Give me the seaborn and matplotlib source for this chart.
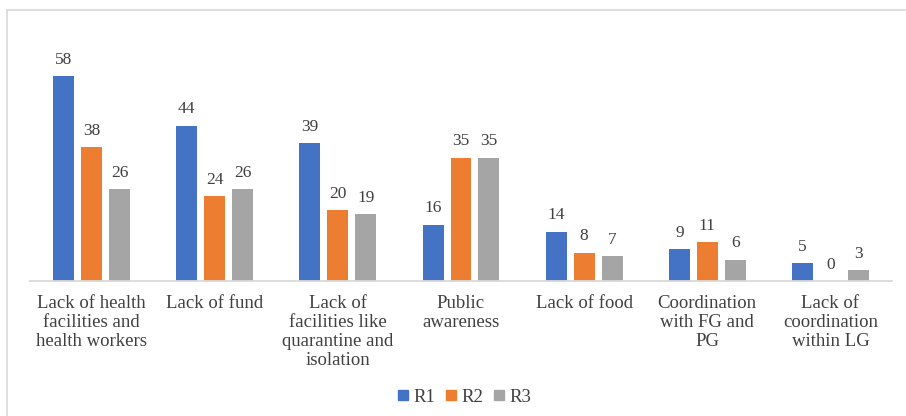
import matplotlib
matplotlib.use("Agg")
import matplotlib.pyplot as plt
import seaborn as sns
import pandas as pd
from matplotlib.patches import Rectangle

categories = [
    "Lack of health\nfacilities and\nhealth workers",
    "Lack of fund",
    "Lack of\nfacilities like\nquarantine and\nisolation",
    "Public\nawareness",
    "Lack of food",
    "Coordination\nwith FG and\nPG",
    "Lack of\ncoordination\nwithin LG",
]
series = ["R1", "R2", "R3"]
r1 = [58, 44, 39, 16, 14, 9, 5]
r2 = [38, 24, 20, 35, 8, 11, 0]
r3 = [26, 26, 19, 35, 7, 6, 3]
colors = ["#4472C4", "#ED7D31", "#A5A5A5"]

rows = []
for s, vals in zip(series, [r1, r2, r3]):
    for c, v in zip(categories, vals):
        rows.append({"category": c, "series": s, "value": v})
df = pd.DataFrame(rows)

sns.set_theme(style="white")
plt.rcParams["font.family"] = ["Liberation Serif", "DejaVu Serif"]
text_color = "#404040"

fig = plt.figure(figsize=(9.06, 4.16), dpi=100)
ax = fig.add_axes([30 / 906, 1 - 281 / 416, 862 / 906, (281 - 34) / 416])

sns.barplot(data=df, x="category", y="value", hue="series", order=categories,
            hue_order=series, palette=colors, width=0.68, gap=0.25,
            linewidth=0, saturation=1, ax=ax, legend=False)

for cont in ax.containers:
    ax.bar_label(cont, padding=6, fontsize=12.5, color=text_color)

ax.set_ylim(0, 70)
ax.set_xlim(-0.5, len(categories) - 0.5)
ax.set_xlabel("")
ax.set_ylabel("")
ax.set_yticks([])
for sp in ["top", "left", "right"]:
    ax.spines[sp].set_visible(False)
ax.spines["bottom"].set_color("#D9D9D9")
ax.spines["bottom"].set_linewidth(1.3)
ax.tick_params(axis="x", length=0, pad=10, labelsize=13.5, colors=text_color)
for lbl in ax.get_xticklabels():
    lbl.set_linespacing(1.15)

handles = [plt.Rectangle((0, 0), 1, 1, color=c) for c in colors]
fig.legend(handles, series, loc="center", bbox_to_anchor=(0.513, 1 - 397 / 416),
           ncol=3, frameon=False, fontsize=13.5, handlelength=0.5, handleheight=0.5,
           handletextpad=0.3, columnspacing=0.6, labelcolor=text_color)

fig.patches.append(Rectangle((7 / 906, -0.1), 1.2, 1 - 10 / 416 + 0.1,
                             transform=fig.transFigure, fill=False,
                             edgecolor="#D9D9D9", linewidth=1.2))

fig.savefig("out.png", dpi=100)
